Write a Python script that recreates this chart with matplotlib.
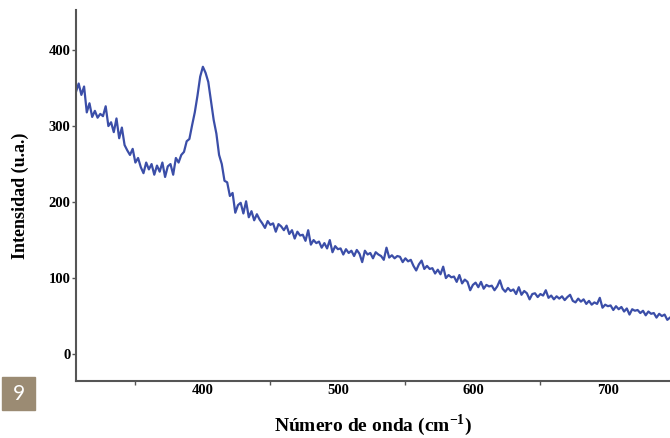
import numpy as np
import matplotlib
matplotlib.use("Agg")
import matplotlib.pyplot as plt
from matplotlib.patches import Rectangle

plt.rcParams["mathtext.fontset"] = "custom"
plt.rcParams["mathtext.rm"] = "Liberation Serif:bold"
plt.rcParams["mathtext.bf"] = "Liberation Serif:bold"

# wavenumber grid (cm-1), 2 cm-1 step
wavenumber = np.arange(306, 747, 2)

# intensity (a.u.)
intensity = [
    345, 356, 341, 352, 318, 330, 312, 320, 311, 316,
    313, 326, 300, 305, 292, 310, 284, 298, 275, 268,
    262, 270, 252, 258, 246, 238, 252, 243, 250, 236,
    248, 240, 252, 233, 247, 250, 236, 258, 252, 262,
    266, 280, 283, 301, 318, 340, 365, 378, 370, 358,
    333, 308, 290, 262, 250, 228, 226, 208, 212, 186,
    196, 199, 185, 201, 180, 188, 176, 184, 177, 172,
    166, 175, 170, 172, 161, 171, 168, 163, 169, 158,
    163, 152, 161, 156, 157, 149, 163, 144, 150, 146,
    148, 140, 146, 139, 150, 134, 142, 138, 139, 131,
    138, 133, 136, 129, 137, 132, 121, 136, 131, 133,
    126, 134, 131, 129, 124, 140, 127, 130, 126, 129,
    128, 121, 126, 122, 124, 116, 110, 118, 123, 112,
    116, 112, 113, 106, 111, 105, 115, 100, 104, 101,
    102, 95, 104, 93, 98, 95, 84, 91, 94, 88,
    95, 86, 91, 89, 90, 84, 89, 97, 86, 82,
    87, 83, 85, 79, 88, 78, 83, 80, 72, 79,
    80, 75, 79, 77, 84, 74, 77, 72, 76, 73,
    76, 71, 75, 78, 70, 68, 73, 69, 72, 66,
    70, 65, 68, 66, 74, 61, 65, 63, 64, 58,
    63, 59, 62, 56, 60, 52, 59, 57, 58, 54,
    57, 51, 56, 53, 54, 48, 53, 50, 52, 45,
    48,
]

x_labels = [400, 500, 600, 700]
x_marks = [350, 450, 550, 650]
y_ticks = [0, 100, 200, 300, 400]

serif = "Liberation Serif"

fig = plt.figure(figsize=(6.7, 4.38), dpi=100)
ax = fig.add_axes([0.1134, 0.130, 0.8866, 0.847])

ax.plot(wavenumber, intensity, color="#3b4ea8", lw=1.6)

ax.set_xlim(306, 746)
ax.set_ylim(-35.5, 452.6)

ax.spines["top"].set_visible(False)
ax.spines["right"].set_visible(False)
for s in ("left", "bottom"):
    ax.spines[s].set_color("#555555")
    ax.spines[s].set_linewidth(1.5)

# tick marks sit between the labels on the x axis
ax.set_xticks(x_marks)
ax.set_xticklabels([])
ax.set_xticks(x_labels, minor=True)
ax.set_xticklabels([str(v) for v in x_labels], minor=True,
                   fontfamily=serif, fontweight="bold", fontsize=10.5)
ax.tick_params(axis="x", which="major", length=3, width=1, color="#555555", direction="out")
ax.tick_params(axis="x", which="minor", length=0, pad=2)

ax.set_yticks(y_ticks)
ax.set_yticklabels([str(v) for v in y_ticks], fontfamily=serif,
                   fontweight="bold", fontsize=10.5)
ax.tick_params(axis="y", length=3, width=1, color="#555555", pad=1)

ax.set_xlabel("Número de onda (cm$^{\\mathrm{-1}}$)", fontfamily=serif,
              fontweight="bold", fontsize=14, labelpad=11)
ax.set_ylabel("Intensidad (u.a.)", fontfamily=serif, fontweight="bold",
              fontsize=13, labelpad=14)

# page number box
fig.patches.append(Rectangle((2 / 670, 1 - 410 / 438), 33 / 670, 33 / 438,
                             transform=fig.transFigure, color="#9b8b73"))
fig.text(18.5 / 670, 1 - 393.5 / 438, "9", color="white", fontsize=15,
         fontfamily="Lato", ha="center", va="center")

fig.savefig("out.png", dpi=100)
